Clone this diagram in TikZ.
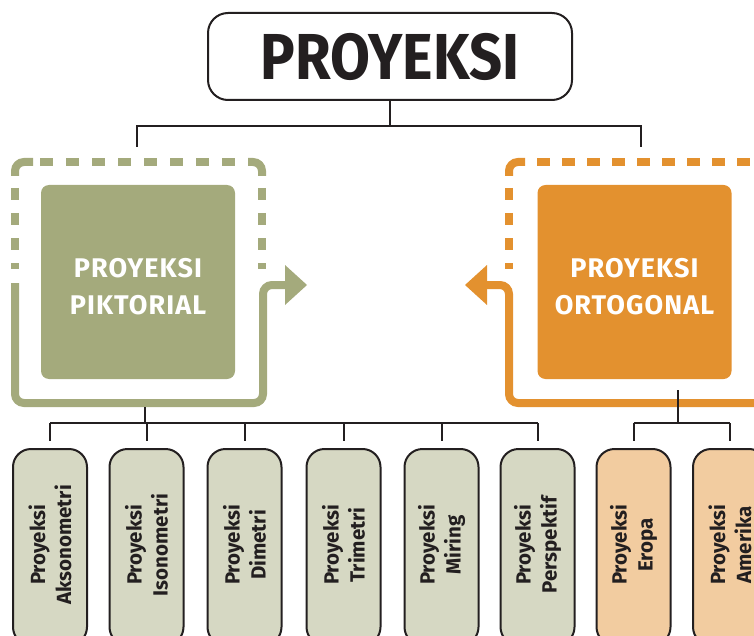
\documentclass[tikz,border=0pt]{standalone}
\usepackage{fontspec}
\setmainfont{Fira Sans}
\newfontfamily\catfont[LetterSpace=4]{Fira Sans}
\definecolor{dark}{HTML}{231F20}
\definecolor{gcol}{HTML}{A4AA7C}
\definecolor{ocol}{HTML}{E3912F}
\definecolor{lgreen}{HTML}{D6D8C3}
\definecolor{lorange}{HTML}{F2CCA0}
\begin{document}
\begin{tikzpicture}[x=1pt,y=-1pt,
  conn/.style={draw=dark,line width=2pt},
  topbox/.style={draw=dark,line width=2pt,rounded corners=20pt,minimum width=364pt,minimum height=87pt,
    font=\fontsize{65}{65}\selectfont\bfseries,text=dark,inner sep=0pt},
  catbox/.style={rounded corners=8pt,minimum width=194pt,minimum height=194pt,inner sep=0pt},
  cattext/.style={text=white,align=center,font=\catfont\fontsize{27}{37}\selectfont\bfseries},
  gframe/.style={draw=gcol,line width=8pt},
  oframe/.style={draw=ocol,line width=8pt},
  subbox/.style={draw=dark,line width=2pt,rounded corners=18pt,minimum width=74pt,minimum height=196pt,inner sep=0pt},
  subtext/.style={rotate=90,align=center,text=dark,font=\fontsize{20.5}{26}\selectfont\bfseries}]
\useasboundingbox (0,0) rectangle (754,636);
\clip (0,0) rectangle (754,636);

% top node
\node[topbox] (top) at (390,56.5) {\scalebox{0.89}[1]{PROYEKSI}};

% category boxes
\node[catbox,fill=gcol] (pik) at (138,282) {};
\node[cattext] (pikt) at ([yshift=-5pt]pik.center) {PROYEKSI\\PIKTORIAL};
\node[catbox,fill=ocol] (ort) at (634.5,282) {};
\node[cattext] (ortt) at ([yshift=-5pt]ort.center) {PROYEKSI\\ORTOGONAL};

% green frame
\draw[gframe,rounded corners=9pt] (15,176) |- (33,162);
\draw[gframe,dash pattern=on 13pt off 13pt] (40,162) -- (236,162);
\draw[gframe,rounded corners=9pt] (248,162) -| (262,176);
\draw[gframe,dash pattern=on 12pt off 13pt] (15,188) -- (15,269);
\draw[gframe,dash pattern=on 12pt off 13pt] (262,188) -- (262,269);
\draw[gframe,rounded corners=9pt] (15,283) |- (263,403) |- (287,285);
\fill[gcol] (285,265) -- (307,285) -- (285,305) -- cycle;

% orange frame
\draw[oframe,rounded corners=9pt] (509,176) |- (525,162);
\draw[oframe,dash pattern=on 13pt off 12pt] (537,162) -- (760,162);
\draw[oframe,dash pattern=on 12pt off 13pt] (509,188) -- (509,269);
\draw[oframe,rounded corners=9pt] (485,285) -| (509,403) -- (760,403);
\fill[ocol] (487,265) -- (465,285) -- (487,305) -- cycle;

% top connectors
\coordinate (jt) at (390,126);
\coordinate (gt) at (137,147);
\coordinate (ot) at (641,147);
\draw[conn] (top.south) -- (jt);
\draw[conn] (gt) -- (gt |- jt) -- (ot |- jt) -- (ot);

% sub boxes
\node[subbox,fill=lgreen] (b1) at (50,547) {};
\node[subbox,fill=lgreen] (b2) at (146.5,547) {};
\node[subbox,fill=lgreen] (b3) at (244.5,547) {};
\node[subbox,fill=lgreen] (b4) at (343.5,547) {};
\node[subbox,fill=lgreen] (b5) at (441.5,547) {};
\node[subbox,fill=lgreen] (b6) at (537.5,547) {};
\node[subbox,fill=lorange] (b7) at (633.5,547) {};
\node[subbox,fill=lorange] (b8) at (730,547) {};
\node[subtext] (t1) at ([yshift=2pt]b1.center) {Proyeksi\\Aksonometri};
\node[subtext] (t2) at ([yshift=2pt]b2.center) {Proyeksi\\Isonometri};
\node[subtext] (t3) at ([yshift=2pt]b3.center) {Proyeksi\\Dimetri};
\node[subtext] (t4) at ([yshift=2pt]b4.center) {Proyeksi\\Trimetri};
\node[subtext] (t5) at ([yshift=2pt]b5.center) {Proyeksi\\Miring};
\node[subtext] (t6) at ([yshift=2pt]b6.center) {Proyeksi\\Perspektif};
\node[subtext] (t7) at ([yshift=2pt]b7.center) {Proyeksi\\Eropa};
\node[subtext] (t8) at ([yshift=2pt]b8.center) {Proyeksi\\Amerika};

% bottom connectors
\coordinate (bus) at (0,423);
\coordinate (gstem) at (145,407);
\coordinate (ostem) at (678,390);
\draw[conn] (gstem) -- (gstem |- bus);
\draw[conn] (b1.north |- bus) -- (b6.north |- bus);
\foreach \b in {b1,b2,b3,b4,b5,b6,b7,b8}
  \draw[conn,shorten >=7pt] (\b.north |- bus) -- (\b.north);
\draw[conn] (ostem) -- (ostem |- bus);
\draw[conn] (b7.north |- bus) -- (b8.north |- bus);
\end{tikzpicture}
\end{document}
